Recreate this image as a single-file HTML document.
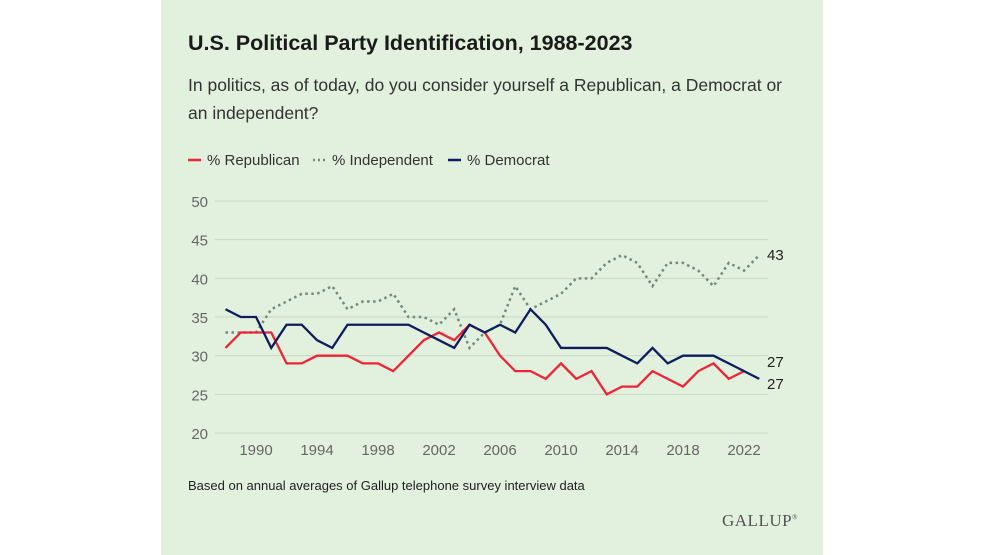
<!DOCTYPE html>
<html><head><meta charset="utf-8"><style>
body{margin:0;width:986px;height:555px;background:#fff;overflow:hidden;font-family:"Liberation Sans",sans-serif}
#panel{position:absolute;left:161px;top:0;width:662px;height:555px;background:#e2f0de}
.t{position:absolute;color:#222}
</style></head><body>
<div id="panel"></div>
<div class="t" style="left:188px;top:31px;font-size:21.5px;font-weight:bold;color:#1a1a1a">U.S. Political Party Identification, 1988-2023</div>
<div class="t" style="left:188px;top:71px;font-size:17.5px;line-height:28px;color:#333;width:606px">In politics, as of today, do you consider yourself a Republican, a Democrat or an independent?</div>
<div class="t" style="left:188px;top:478px;font-size:13px;color:#222">Based on annual averages of Gallup telephone survey interview data</div>
<div class="t" style="left:722px;top:511px;font-family:'Liberation Serif',serif;font-size:17px;color:#555;letter-spacing:0.5px">GALLUP<sup style="font-size:7px">®</sup></div>
<svg id="chart" width="986" height="555" style="position:absolute;left:0;top:0"></svg>
<script>
const years=[];for(let y=1988;y<=2023;y++)years.push(y);
const republican=[31,33,33,33,29,29,30,30,30,29,29,28,30,32,33,32,34,33,30,28,28,27,29,27,28,25,26,26,28,27,26,28,29,27,28,27];
const independent=[33,33,33,36,37,38,38,39,36,37,37,38,35,35,34,36,31,33,34,39,36,37,38,40,40,42,43,42,39,42,42,41,39,42,41,43];
const democrat=[36,35,35,31,34,34,32,31,34,34,34,34,34,33,32,31,34,33,34,33,36,34,31,31,31,31,30,29,31,29,30,30,30,29,28,27];
const yTicks=[20,25,30,35,40,45,50];
const xTicks=[1990,1994,1998,2002,2006,2010,2014,2018,2022];
const NS="http://www.w3.org/2000/svg",svg=document.getElementById('chart');
const X=y=>225.5+(y-1988)*15.25, Y=v=>433-(v-20)*7.733;
function mk(t,a){const e=document.createElementNS(NS,t);for(const k in a)e.setAttribute(k,a[k]);svg.appendChild(e);return e;}
yTicks.forEach(v=>{
 const g=mk('line',{x1:215,x2:768,y1:Y(v),y2:Y(v),stroke:'#c9d8c4','stroke-width':1});
 
 
 const t=mk('text',{x:208,y:Y(v)+6,'text-anchor':'end','font-size':15,fill:'#666','font-family':'Liberation Sans,sans-serif'});t.textContent=v;
 
 
});
xTicks.forEach(v=>{
 const t=mk('text',{x:X(v),y:455,'text-anchor':'middle','font-size':15,fill:'#666','font-family':'Liberation Sans,sans-serif'});t.textContent=v;
 
 
});
function line(vals,color,dash,name,n){
 const pts=vals.slice(0,n).map((v,i)=>X(years[i])+','+Y(v)).join(' ');
 const p=mk('polyline',{points:pts,fill:'none',stroke:color,'stroke-width':dash?2.5:2.3,'stroke-dasharray':dash||'none','stroke-linejoin':'miter'});
 
 
}
line(independent,'#6f8a7e','2.5 3.5','independent-line',36);
line(republican,'#ee2436',null,'republican-line',35);
line(democrat,'#0e1d5e',null,'democrat-line',36);
[[independent[35],Y(independent[35])+5,'label-independent'],[democrat[35],Y(democrat[35])-12,'label-democrat'],[republican[35],Y(republican[35])+10,'label-republican']].forEach(a=>{
 const t=mk('text',{x:767,y:a[1],'font-size':15,fill:'#222','font-family':'Liberation Sans,sans-serif'});t.textContent=a[0];
 
 
});
const leg=[['% Republican','#ee2436',null,188],['% Independent','#6f8a7e','2 3',313],['% Democrat','#0e1d5e',null,448]];
leg.forEach(l=>{
 const s=mk('line',{x1:l[3],x2:l[3]+13,y1:160,y2:160,stroke:l[1],'stroke-width':2.5,'stroke-dasharray':l[2]||'none'});
 
 
 const t=mk('text',{x:l[3]+19,y:165,'font-size':15,fill:'#333','font-family':'Liberation Sans,sans-serif'});t.textContent=l[0];
 
 
});
</script>
</body></html>
